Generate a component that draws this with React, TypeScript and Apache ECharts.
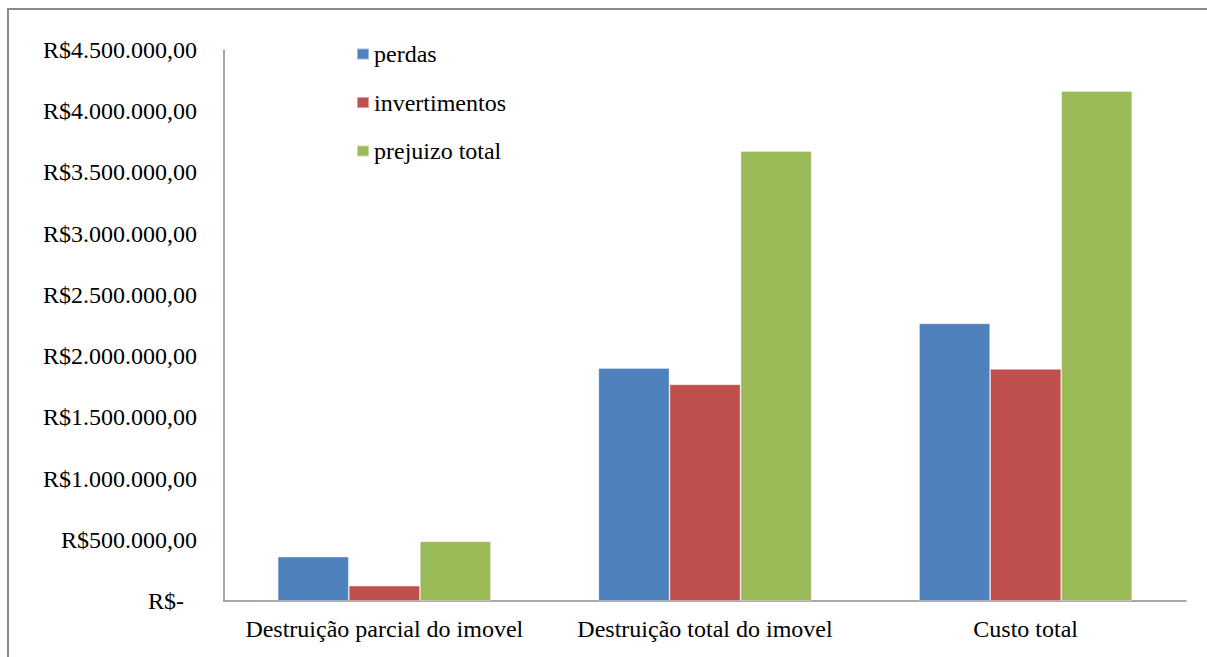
import React, { useEffect, useRef } from "react";
import * as echarts from "echarts";

const categories = [
  "Destruição parcial do imovel",
  "Destruição total do imovel",
  "Custo total",
];
const perdas = [362000, 1903000, 2268000];
const invertimentos = [125000, 1770000, 1895000];
const prejuizoTotal = [488000, 3675000, 4165000];
const seriesNames = ["perdas", "invertimentos", "prejuizo total"];
const colors = ["#4F81BD", "#C0504D", "#9BBB59"];

const FONT = "Times New Roman";
const FS = 24;

function fmt(v: number): string {
  if (v === 0) return "{z|R$-}";
  const s = Math.round(v).toString().replace(/\B(?=(\d{3})+(?!\d))/g, ".");
  return "R$" + s + ",00";
}

export default function App() {
  const ref = useRef<HTMLDivElement>(null);
  useEffect(() => {
    if (!ref.current) return;
    const chart = echarts.init(ref.current, undefined, { renderer: "svg" });
    const data = [perdas, invertimentos, prejuizoTotal];
    chart.setOption({
      animation: false,
      graphic: [
        {
          type: "rect",
          shape: { x: 8, y: 9, width: 1300, height: 800 },
          style: { fill: "none", stroke: "#8a8a8a", lineWidth: 2 },
          silent: true,
        },
      ],
      legend: {
        orient: "vertical",
        left: 351,
        top: 37,
        itemWidth: 12,
        itemHeight: 11,
        itemGap: 24.5,
        icon: "rect",
        textStyle: { fontFamily: FONT, fontSize: FS, color: "#000", lineHeight: 24 },
        data: seriesNames,
      },
      grid: { left: 224, right: 21, top: 50, bottom: 56, containLabel: false },
      xAxis: {
        type: "category",
        data: categories,
        axisLine: { show: true, lineStyle: { color: "#8c8c8c", width: 1.5 } },
        axisTick: { show: false },
        axisLabel: { fontFamily: FONT, fontSize: FS, color: "#000", margin: 16, interval: 0 },
      },
      yAxis: {
        type: "value",
        min: 0,
        max: 4500000,
        interval: 500000,
        splitLine: { show: false },
        axisLine: { show: true, lineStyle: { color: "#8c8c8c", width: 1.5 } },
        axisTick: { show: false },
        axisLabel: {
          fontFamily: FONT,
          fontSize: FS,
          color: "#000",
          margin: 27,
          formatter: fmt,
          rich: { z: { fontFamily: FONT, fontSize: FS, color: "#000", padding: [0, 13, 0, 0] } },
        },
      },
      series: seriesNames.map((name, i) => ({
        name,
        type: "bar",
        data: data[i],
        barGap: "0%",
        barCategoryGap: "33.5%",
        itemStyle: { color: colors[i], borderColor: "rgba(255,255,255,0.45)", borderWidth: 0.8 },
      })),
    });
    return () => chart.dispose();
  }, []);
  return (
    <div
      ref={ref}
      style={{ position: "absolute", left: 0, top: 0, width: 1207, height: 657, background: "#fff" }}
    />
  );
}
